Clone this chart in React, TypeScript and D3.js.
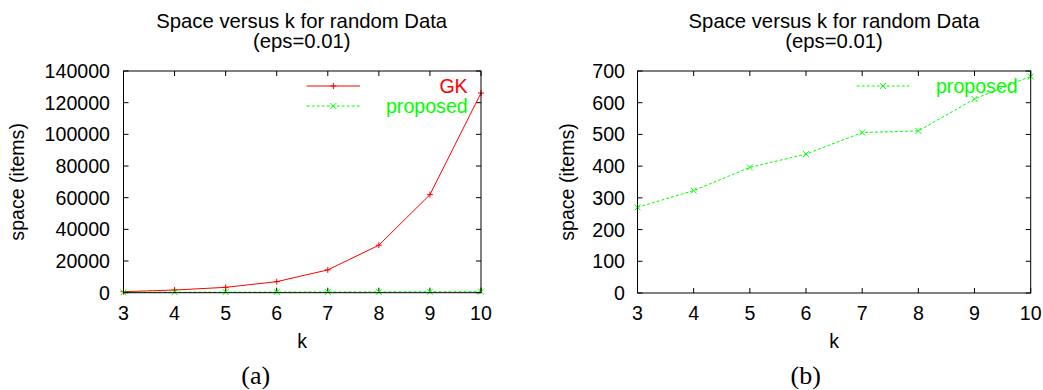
import React from "react";
import * as d3 from "d3";

const ks = [3, 4, 5, 6, 7, 8, 9, 10];
const gkSpace = [630, 1690, 3380, 6970, 14400, 30000, 61900, 126100];
const proposedSpace = [270, 323, 396, 438, 506, 511, 612, 683];
const leftYTicks = [0, 20000, 40000, 60000, 80000, 100000, 120000, 140000];
const rightYTicks = [0, 100, 200, 300, 400, 500, 600, 700];
const titleLine1 = "Space versus k for random Data";
const titleLine2 = "(eps=0.01)";

const FONT = "'Liberation Sans', Arial, Helvetica, sans-serif";
const FS = 19.6;
const TFS = 20.3;
const RED = "#ff0000";
const GREEN = "#00ff00";

type Series = { name: string; values: number[]; color: string; dash?: string; marker: "plus" | "cross" };

function Marker({ x, y, kind, color }: { x: number; y: number; kind: "plus" | "cross"; color: string }) {
  const s = 3;
  if (kind === "plus") {
    return (
      <g stroke={color} strokeWidth={1}>
        <line x1={x - s} x2={x + s} y1={y} y2={y} />
        <line x1={x} x2={x} y1={y - s} y2={y + s} />
      </g>
    );
  }
  return (
    <g stroke={color} strokeWidth={1}>
      <line x1={x - s} x2={x + s} y1={y - s} y2={y + s} />
      <line x1={x - s} x2={x + s} y1={y + s} y2={y - s} />
    </g>
  );
}

function Panel({
  x0, x1, y0, y1, yMax, yTicks, series, tickLabelX, yLabelX, titleX, legendLineX0, legendLineX1, legendTextX, caption, captionX,
}: {
  x0: number; x1: number; y0: number; y1: number; yMax: number; yTicks: number[]; series: Series[];
  tickLabelX: number; yLabelX: number; titleX: number; legendLineX0: number; legendLineX1: number; legendTextX: number;
  caption: string; captionX: number;
}) {
  const xs = d3.scaleLinear().domain([3, 10]).range([x0, x1]);
  const ys = d3.scaleLinear().domain([0, yMax]).range([y1, y0]);
  const line = d3.line<number>().x((_, i) => xs(ks[i])).y((v) => ys(v));
  const tl = 5;
  return (
    <g fontFamily={FONT}>
      <text x={titleX} y={28} fontSize={TFS} textAnchor="middle" fill="#000">{titleLine1}</text>
      <text x={titleX} y={48} fontSize={TFS} textAnchor="middle" fill="#000">{titleLine2}</text>
      {yTicks.map((t) => (
        <g key={"y" + t}>
          <line x1={x0} x2={x0 + tl} y1={ys(t)} y2={ys(t)} stroke="#000" />
          <line x1={x1} x2={x1 - tl} y1={ys(t)} y2={ys(t)} stroke="#000" />
          <text x={tickLabelX} y={ys(t) + 7} fontSize={FS} textAnchor="end" fill="#000">{t}</text>
        </g>
      ))}
      {ks.map((k) => (
        <g key={"x" + k}>
          <line x1={xs(k)} x2={xs(k)} y1={y1} y2={y1 - tl} stroke="#000" />
          <line x1={xs(k)} x2={xs(k)} y1={y0} y2={y0 + tl} stroke="#000" />
          <text x={xs(k)} y={320} fontSize={FS} textAnchor="middle" fill="#000">{k}</text>
        </g>
      ))}
      <text x={(x0 + x1) / 2} y={348} fontSize={FS} textAnchor="middle" fill="#000">k</text>
      <text
        transform={`translate(${yLabelX},${(y0 + y1) / 2}) rotate(-90)`}
        fontSize={FS}
        textAnchor="middle"
        fill="#000"
      >space (items)</text>
      {series.map((s, si) => (
        <g key={s.name}>
          <path d={line(s.values) || ""} fill="none" stroke={s.color} strokeWidth={1} strokeDasharray={s.dash} />
          {s.values.map((v, i) => (
            <Marker key={i} x={xs(ks[i])} y={ys(v)} kind={s.marker} color={s.color} />
          ))}
          <line x1={legendLineX0} x2={legendLineX1} y1={86 + si * 20} y2={86 + si * 20} stroke={s.color} strokeDasharray={s.dash} />
          <Marker x={(legendLineX0 + legendLineX1) / 2} y={86 + si * 20} kind={s.marker} color={s.color} />
          <text x={legendTextX} y={93 + si * 20} fontSize={FS} textAnchor="end" fill={s.color}>{s.name}</text>
        </g>
      ))}
      <rect x={x0} y={y0} width={x1 - x0} height={y1 - y0} fill="none" stroke="#000" strokeWidth={1} />
      <text x={captionX} y={384} fontSize={26} textAnchor="middle" fontFamily="'Liberation Serif', 'Times New Roman', serif" fill="#000">{caption}</text>
    </g>
  );
}

export default function App() {
  return (
    <svg width={1043} height={390} style={{ position: "absolute", left: 0, top: 0, background: "#fff" }}>
      <rect width={1043} height={390} fill="#fff" />
      <Panel
        x0={123.5} x1={481} y0={71} y1={292.7} yMax={140000} yTicks={leftYTicks}
        series={[
          { name: "GK", values: gkSpace, color: RED, marker: "plus" },
          { name: "proposed", values: proposedSpace, color: GREEN, dash: "3,2", marker: "cross" },
        ]}
        tickLabelX={110} yLabelX={24} titleX={301.7}
        legendLineX0={306.7} legendLineX1={360} legendTextX={467.7}
        caption="(a)" captionX={255.7}
      />
      <Panel
        x0={637.5} x1={1030.7} y0={71} y1={293} yMax={700} yTicks={rightYTicks}
        series={[{ name: "proposed", values: proposedSpace, color: GREEN, dash: "3,2", marker: "cross" }]}
        tickLabelX={625} yLabelX={574} titleX={834}
        legendLineX0={856.7} legendLineX1={909.3} legendTextX={1017.7}
        caption="(b)" captionX={805.7}
      />
    </svg>
  );
}
